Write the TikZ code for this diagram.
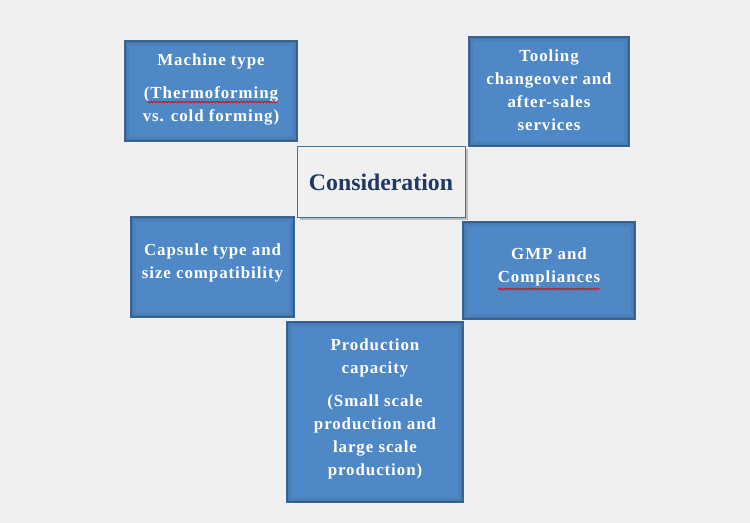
\documentclass[tikz,border=0pt]{standalone}
\usepackage{fontspec}
\setmainfont{Liberation Serif}
\newfontfamily\boxfont[LetterSpace=5.5]{Liberation Serif}
\usetikzlibrary{shadows,decorations.pathmorphing,calc}
\definecolor{bgc}{HTML}{F0F0F0}
\definecolor{boxfill}{HTML}{4F88C6}
\definecolor{boxedge}{HTML}{3A6797}
\definecolor{navy}{HTML}{1F3864}
\definecolor{consedge}{HTML}{41719C}
\tikzset{
  bluebox/.style={draw=boxedge, line width=1.2bp, fill=boxfill, inner sep=0pt},
  boxtext/.style={text=white, align=center, inner sep=0pt,
    font=\boxfont\bfseries\fontsize{16.9bp}{23bp}\selectfont},
  consbox/.style={draw=consedge, line width=1bp, fill=bgc, inner sep=0pt,
    drop shadow={shadow xshift=2.5bp, shadow yshift=-2.5bp, opacity=0.45},
    text=navy, font=\bfseries\fontsize{23.8bp}{28bp}\selectfont},
  spell/.style={draw=red!90!black, line width=0.7bp,
    decorate, decoration={snake, segment length=3bp, amplitude=0.9bp}}
}
\newcommand{\innershade}[1]{%
  \foreach \i/\o in {1.2/0.35,2.4/0.22,3.6/0.12,4.8/0.06}{%
    \draw[boxedge!70!black, line width=1.2bp, opacity=\o]
      ($(#1.north west)+(\i bp,-\i bp)$) rectangle ($(#1.south east)+(-\i bp,\i bp)$);}%
}
\begin{document}
\begin{tikzpicture}[x=1bp,y=-1bp]
\fill[bgc] (0,0) rectangle (750,523);
\useasboundingbox (0,0) rectangle (750,523);

% boxes
\node[bluebox, minimum width=172bp, minimum height=100bp] (mach) at (211,91) {};
\node[bluebox, minimum width=160bp, minimum height=109bp] (tool) at (549,91.5) {};
\node[bluebox, minimum width=163bp, minimum height=100bp] (caps) at (212.5,267) {};
\node[bluebox, minimum width=172bp, minimum height=97bp] (gmp) at (549,270.5) {};
\node[bluebox, minimum width=176bp, minimum height=180bp] (prod) at (375,412) {};
\innershade{mach}\innershade{tool}\innershade{caps}\innershade{gmp}\innershade{prod}

\node[consbox, minimum width=168bp, minimum height=71bp] (cons) at (381,182.5) {Consideration};

% texts
\node[boxtext] (macht) at (211,89.5) {Machine type\\[10bp](Thermoforming\\vs. cold forming)};
\node[boxtext] (toolt) at (549,90.5) {Tooling\\changeover and\\after-sales\\services};
\node[boxtext] (capst) at (212.5,263) {Capsule type and\\size compatibility};
\node[boxtext] (gmpt) at (549,267) {GMP and\\Compliances};
\node[boxtext] (prodt) at (375,408.5) {Production\\capacity\\[10bp](Small scale\\production and\\large scale\\production)};

% spell-check underlines
\draw[spell] (147,102) -- (277,102);
\draw[spell] (498,289) -- (600,289);
\end{tikzpicture}
\end{document}
